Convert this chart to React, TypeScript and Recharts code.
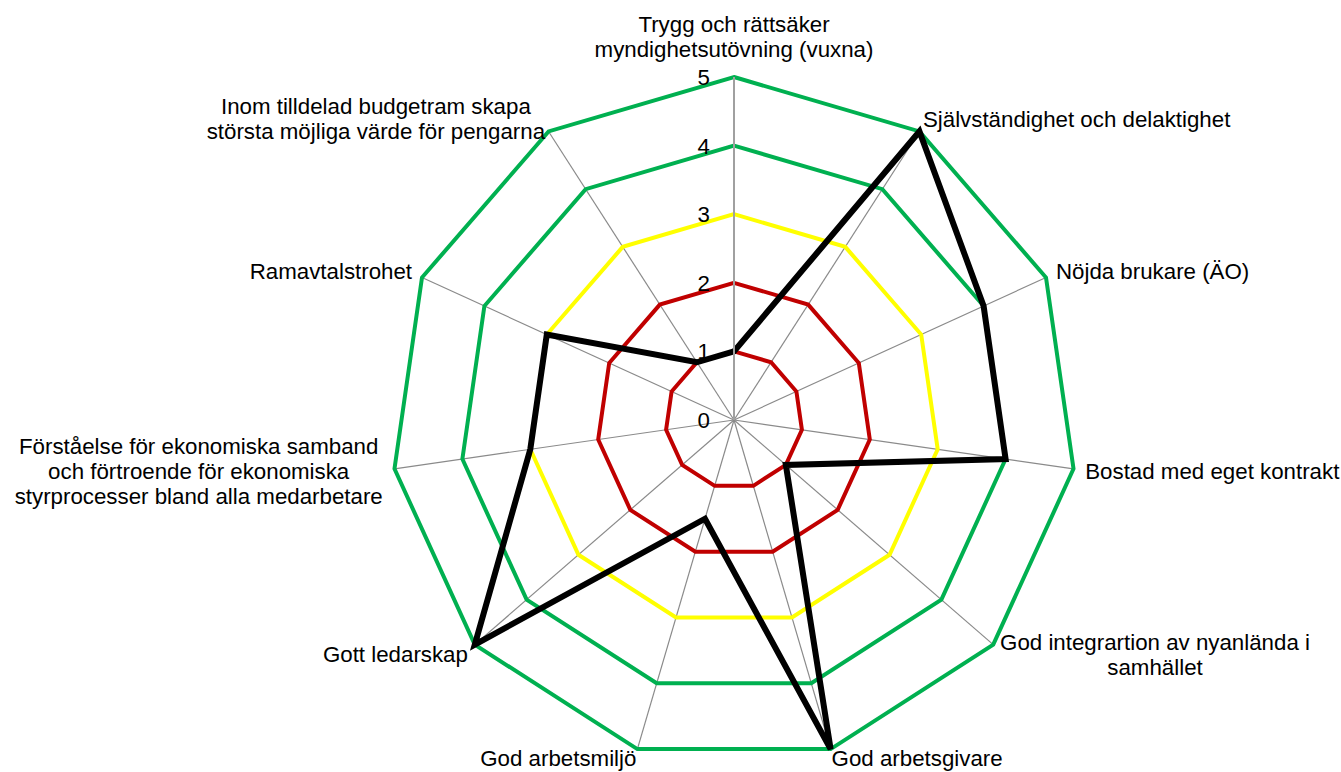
import React from 'react';
import { RadarChart, Radar, PolarGrid, PolarAngleAxis, PolarRadiusAxis } from 'recharts';

// category names, line breaks as in the original labels
const categories = [
  'Trygg och rättsäker\nmyndighetsutövning (vuxna)',
  'Självständighet och delaktighet',
  'Nöjda brukare (ÄO)',
  'Bostad med eget kontrakt',
  'God integrartion av nyanlända i\nsamhället',
  'God arbetsgivare',
  'God arbetsmiljö',
  'Gott ledarskap',
  'Förståelse för ekonomiska samband\noch förtroende för ekonomiska\nstyrprocesser bland alla medarbetare',
  'Ramavtalstrohet',
  'Inom tilldelad budgetram skapa\nstörsta möjliga värde för pengarna',
];

// measured outcome per category
const outcome = [1, 5, 4, 4, 1, 5, 1.5, 5, 3, 3, 1];

// reference rings (red / yellow / green zones)
const levels = [1, 2, 3, 4, 5];
const levelColors = ['#C00000', '#C00000', '#FFFF00', '#00B050', '#00B050'];

const radiusDomain = [0, 5];

const W = 1341;
const H = 772;
const CX = 734;
const CY = 420;
const R = 343;
const FONT = '"Liberation Sans", Arial, sans-serif';
const FONT_SIZE = 22.3;
const LINE_H = 25;

const data = categories.map((name, i) => {
  const row: Record<string, string | number> = { name, outcome: outcome[i] };
  levels.forEach(l => {
    row['lvl' + l] = l;
  });
  return row;
});

let ctx: CanvasRenderingContext2D | null = null;
const measure = (s: string) => {
  if (!ctx) ctx = document.createElement('canvas').getContext('2d');
  if (!ctx) return s.length * 11;
  ctx.font = `${FONT_SIZE}px ${FONT}`;
  return ctx.measureText(s).width;
};

// Excel-like placement of category labels around the outer ring
const AngleTick = (props: any) => {
  const { payload, index } = props;
  const deg = 90 - (index * 360) / categories.length;
  const rad = (deg * Math.PI) / 180;
  const ux = Math.cos(rad);
  const up = Math.sin(rad);
  const x0 = CX + R * ux;
  const y0 = CY - R * up;
  const lines = String(payload.value).split('\n');
  const blockH = lines.length * LINE_H;

  let centerY;
  if (up > 0.95) centerY = y0 - 15 - blockH / 2;
  else if (up < -0.95) centerY = y0 + 15 + blockH / 2;
  else centerY = y0 - 15 * up;
  centerY = Math.max(blockH / 2, Math.min(H - 1 - blockH / 2, centerY));

  const ax = x0 + 12 * ux * Math.abs(ux);
  const w = Math.max(...lines.map(measure));
  const midX = Math.abs(ux) < 0.05 ? ax : ux > 0 ? ax + w / 2 : ax - w / 2;

  return (
    <text textAnchor="middle" fontFamily={FONT} fontSize={FONT_SIZE} fill="#000">
      {lines.map((l, i) => (
        <tspan key={i} x={midX} y={centerY - blockH / 2 + LINE_H * (i + 0.5) + 7.7}>
          {l}
        </tspan>
      ))}
    </text>
  );
};

const RadiusTick = (props: any) => (
  <text
    x={props.x - 24}
    y={props.y + 8}
    textAnchor="end"
    fontFamily={FONT}
    fontSize={FONT_SIZE}
    fill="#000"
  >
    {props.payload.value}
  </text>
);

export default function App() {
  return (
    <div style={{ position: 'absolute', left: 0, top: 0, background: '#fff' }}>
      <RadarChart
        width={W}
        height={H}
        cx={CX}
        cy={CY}
        outerRadius={R}
        data={data}
        margin={{ top: 0, right: 0, bottom: 0, left: 0 }}
      >
        <PolarGrid gridType="polygon" polarRadius={[]} stroke="#8a8a8a" strokeWidth={1.2} />
        <PolarRadiusAxis
          angle={90}
          domain={radiusDomain}
          tickCount={6}
          axisLine={{ stroke: '#a0a0a0', strokeWidth: 2 }}
          tick={RadiusTick}
        />
        <PolarAngleAxis dataKey="name" axisLine={false} tickLine={false} tick={AngleTick} />
        {levels.map((l, i) => (
          <Radar
            key={l}
            dataKey={'lvl' + l}
            stroke={levelColors[i]}
            strokeWidth={4}
            fill="none"
            fillOpacity={0}
            dot={false}
            isAnimationActive={false}
          />
        ))}
        <Radar
          dataKey="outcome"
          stroke="#000"
          strokeWidth={6}
          fill="none"
          fillOpacity={0}
          dot={false}
          isAnimationActive={false}
        />
      </RadarChart>
    </div>
  );
}
